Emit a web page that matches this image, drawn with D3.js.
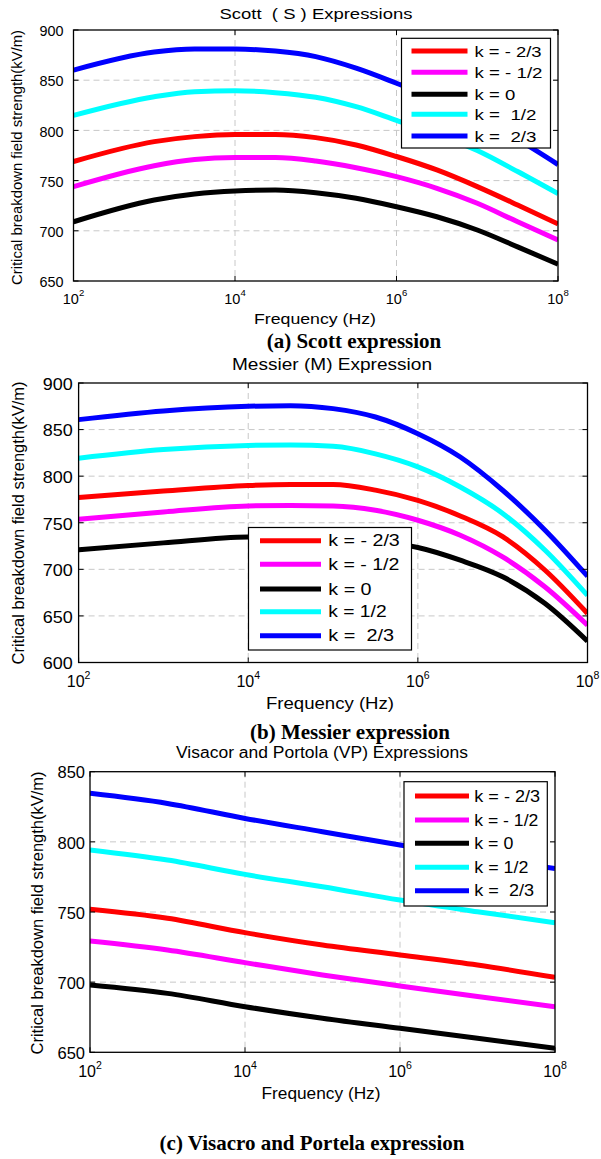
<!DOCTYPE html>
<html>
<head>
<meta charset="utf-8">
<script src="https://cdn.jsdelivr.net/npm/d3@7"></script>
<style>
  html, body { margin: 0; padding: 0; background: #fff; }
  svg { display: block; }
  text { white-space: pre; }
</style>
</head>
<body>
<script>
// ---- shared series definitions ----
const seriesColors = ["#ff0000", "#ff00ff", "#000000", "#00ffff", "#0000ff"];
const legendScott   = ["k = - 2/3", "k = - 1/2", "k = 0", "k =  1/2", "k =  2/3"];
const legendMessier = ["k = - 2/3", "k = - 1/2", "k = 0", "k = 1/2", "k =  2/3"];
const legendVP      = ["k = - 2/3", "k = - 1/2", "k = 0", "k = 1/2", "k =  2/3"];
const xTickValues   = [1e2, 1e4, 1e6, 1e8];
const xTickExponents = ["2", "4", "6", "8"];

// ---- (a) Scott expression ----
const freqScott = [100, 1000, 3162, 10000, 31623, 100000, 316228, 1000000, 3162278, 10000000, 31622777, 100000000];
const scottKm23 = [769, 788.8, 793.8, 796, 796, 792.8, 785.5, 774, 760.6, 744, 725.7, 706.8];
const scottKm12 = [744, 764.8, 771, 773, 773, 769.5, 762.8, 753.9, 742.3, 727.4, 709, 690.8];
const scottK0   = [709, 730.7, 736.7, 739.7, 740.6, 738, 732.4, 724, 714, 700.8, 684, 666.7];
const scottK12  = [815, 833.6, 838.6, 839.6, 837.6, 833, 823.6, 810, 796, 780, 759, 737];
const scottK23  = [860, 878, 881, 881, 879, 873.5, 862, 847, 831, 813, 791, 766];
const scottYTicks = [650, 700, 750, 800, 850, 900];

// ---- (b) Messier expression ----
const freqMessier = [100, 1000, 10000, 31623, 100000, 316228, 1000000, 3162278, 10000000, 31622777, 100000000];
const messierKm23 = [777, 784, 790, 791, 791, 785, 774, 757.3, 735, 699, 652.6];
const messierKm12 = [753.8, 761.6, 768, 768.5, 768, 763.4, 752.7, 736.6, 713.3, 681, 640];
const messierK0   = [721, 728.4, 734.8, 735, 733, 730, 723.4, 709.8, 692, 663.3, 622.9];
const messierK12  = [819.2, 828.5, 833, 833.5, 832, 824, 810, 788.4, 760, 720.5, 672];
const messierK23  = [860.7, 870, 875, 875.7, 872.5, 863.5, 845.6, 820.6, 784.9, 742, 692.6];
const messierYTicks = [600, 650, 700, 750, 800, 850, 900];

// ---- (c) Visacro and Portela expression ----
const freqVP = [100, 1000, 10000, 100000, 1000000, 10000000, 100000000];
const vpKm23 = [751.9, 745.5, 735.3, 726.5, 719.4, 712.2, 703.4];
const vpKm12 = [729.3, 722.9, 713.9, 705.1, 697.3, 689.7, 682.5];
const vpK0   = [698, 692, 682.5, 674.2, 667.1, 660, 652.9];
const vpK12  = [794.2, 787, 776.8, 768, 758.5, 750.2, 742.4];
const vpK23  = [834.6, 827.4, 816.7, 807.2, 797.7, 789, 781];
const vpYTicks = [650, 700, 750, 800, 850];

const SANS = "'Liberation Sans', Arial, Helvetica, sans-serif";
const SERIF = "'Liberation Serif', 'Times New Roman', serif";

const W = 601, H = 1159;
const svg = d3.select("body").append("svg").attr("width", W).attr("height", H);
svg.append("rect").attr("width", W).attr("height", H).attr("fill", "#fff");

// stretch a text run to a given advance, like the wide exported plot font
function fit(sel, len) {
  if (len) sel.attr("textLength", len).attr("lengthAdjust", "spacingAndGlyphs");
  return sel;
}

function drawPanel(cfg) {
  const g = svg.append("g");
  const x = d3.scaleLog().domain([1e2, 1e8]).range([cfg.left, cfg.right]);
  const y = d3.scaleLinear().domain(cfg.yDomain).range([cfg.bottom, cfg.top]);

  // dashed grid at the interior major ticks
  g.selectAll(".gy").data(cfg.yTicks.filter(v => v > cfg.yDomain[0] && v < cfg.yDomain[1]))
    .join("line")
    .attr("x1", cfg.left).attr("x2", cfg.right)
    .attr("y1", d => y(d)).attr("y2", d => y(d))
    .attr("stroke", "#c8c8c8").attr("stroke-width", 1).attr("stroke-dasharray", "6,4");
  g.selectAll(".gx").data(xTickValues.slice(1, -1))
    .join("line")
    .attr("x1", d => x(d)).attr("x2", d => x(d))
    .attr("y1", cfg.top).attr("y2", cfg.bottom)
    .attr("stroke", "#c8c8c8").attr("stroke-width", 1).attr("stroke-dasharray", "6,4");

  // curves
  const clipId = "clip" + cfg.id;
  svg.append("clipPath").attr("id", clipId).append("rect")
    .attr("x", cfg.left).attr("y", cfg.top)
    .attr("width", cfg.right - cfg.left).attr("height", cfg.bottom - cfg.top);
  const line = d3.line().x(d => x(d[0])).y(d => y(d[1])).curve(d3.curveMonotoneX);
  g.append("g").attr("clip-path", `url(#${clipId})`)
    .selectAll("path").data(cfg.series)
    .join("path")
    .attr("d", s => line(cfg.freq.map((f, i) => [f, s[i]])))
    .attr("fill", "none")
    .attr("stroke", (s, i) => seriesColors[i])
    .attr("stroke-width", 5)
    .attr("stroke-linejoin", "round");

  // axes box with inward ticks on all four sides
  const tickLen = 5;
  g.append("rect")
    .attr("x", cfg.left).attr("y", cfg.top)
    .attr("width", cfg.right - cfg.left).attr("height", cfg.bottom - cfg.top)
    .attr("fill", "none").attr("stroke", "#000").attr("stroke-width", 1.3);
  cfg.yTicks.forEach(v => {
    g.append("line").attr("x1", cfg.left).attr("x2", cfg.left + tickLen)
      .attr("y1", y(v)).attr("y2", y(v)).attr("stroke", "#000");
    g.append("line").attr("x1", cfg.right).attr("x2", cfg.right - tickLen)
      .attr("y1", y(v)).attr("y2", y(v)).attr("stroke", "#000");
  });
  xTickValues.forEach(v => {
    g.append("line").attr("x1", x(v)).attr("x2", x(v))
      .attr("y1", cfg.bottom).attr("y2", cfg.bottom - tickLen).attr("stroke", "#000");
    g.append("line").attr("x1", x(v)).attr("x2", x(v))
      .attr("y1", cfg.top).attr("y2", cfg.top + tickLen).attr("stroke", "#000");
  });

  // y tick labels
  g.selectAll(".yl").data(cfg.yTicks).join("text")
    .attr("x", cfg.yLabelRight).attr("y", d => y(d) + cfg.tickFont * 0.36 + 1)
    .attr("text-anchor", "end")
    .attr("font-family", SANS).attr("font-size", cfg.tickFont)
    .attr("textLength", cfg.yTickWidth).attr("lengthAdjust", "spacingAndGlyphs")
    .text(d => d);

  // x tick labels: 10 with a raised exponent
  xTickValues.forEach((v, i) => {
    const t = g.append("text")
      .attr("x", x(v)).attr("y", cfg.xTickBase)
      .attr("text-anchor", "middle")
      .attr("font-family", SANS).attr("font-size", cfg.tickFont);
    t.append("tspan").text("10");
    t.append("tspan").attr("dy", -8).attr("font-size", cfg.tickFont * 0.66).text(xTickExponents[i]);
  });

  // title, axis labels
  fit(g.append("text")
    .attr("x", cfg.titleX).attr("y", cfg.titleBase)
    .attr("text-anchor", "middle")
    .attr("font-family", SANS).attr("font-size", cfg.titleFont)
    .text(cfg.title), cfg.titleWidth);
  fit(g.append("text")
    .attr("x", cfg.xLabelX).attr("y", cfg.xLabelBase)
    .attr("text-anchor", "middle")
    .attr("font-family", SANS).attr("font-size", cfg.labelFont)
    .text("Frequency (Hz)"), cfg.xLabelWidth);
  fit(g.append("text")
    .attr("transform", `translate(${cfg.yLabelBase},${cfg.yLabelMid}) rotate(-90)`)
    .attr("text-anchor", "middle")
    .attr("font-family", SANS).attr("font-size", cfg.yLabelFont)
    .text("Critical breakdown field strength(kV/m)"), cfg.yLabelLength);

  // legend
  const L = cfg.legend;
  const lg = g.append("g");
  lg.append("rect")
    .attr("x", L.x0).attr("y", L.y0).attr("width", L.x1 - L.x0).attr("height", L.y1 - L.y0)
    .attr("fill", "#fff").attr("stroke", "#000").attr("stroke-width", 1.2);
  cfg.legendLabels.forEach((lab, i) => {
    const yy = L.rows[i];
    lg.append("line")
      .attr("x1", L.lineX0).attr("x2", L.lineX1).attr("y1", yy).attr("y2", yy)
      .attr("stroke", seriesColors[i]).attr("stroke-width", 5);
    fit(lg.append("text")
      .attr("x", L.textX).attr("y", yy + cfg.legendFont * 0.36)
      .attr("font-family", SANS).attr("font-size", cfg.legendFont)
      .text(lab), L.widths[i]);
  });

  // caption under the panel
  svg.append("text")
    .attr("x", cfg.captionX).attr("y", cfg.captionBase)
    .attr("text-anchor", "middle")
    .attr("font-family", SERIF).attr("font-weight", "bold").attr("font-size", 21)
    .text(cfg.caption);
}

drawPanel({
  id: "a", left: 73.5, right: 558, top: 30, bottom: 281,
  yDomain: [650, 900], yTicks: scottYTicks,
  freq: freqScott, series: [scottKm23, scottKm12, scottK0, scottK12, scottK23],
  legendLabels: legendScott,
  tickFont: 14.5, labelFont: 15, titleFont: 15.5, yLabelFont: 15, legendFont: 15.5,
  yTickWidth: 24,
  yLabelRight: 63.5, xTickBase: 303.5, xLabelBase: 323.5, titleBase: 18.5,
  titleX: 316, titleWidth: 193, xLabelX: 315, xLabelWidth: 122,
  yLabelBase: 21.5, yLabelMid: 157.5, yLabelLength: 255,
  title: "Scott  ( S ) Expressions",
  legend: { x0: 401.5, x1: 550.5, y0: 38.3, y1: 148, lineX0: 411.5, lineX1: 467.5, textX: 474.5,
            rows: [51, 72.3, 94.3, 114.3, 136], widths: [67, 68, 40.7, 62, 62] },
  caption: "(a) Scott expression", captionX: 354, captionBase: 348
});

drawPanel({
  id: "b", left: 78.6, right: 587.5, top: 383, bottom: 662.5,
  yDomain: [600, 900], yTicks: messierYTicks,
  freq: freqMessier, series: [messierKm23, messierKm12, messierK0, messierK12, messierK23],
  legendLabels: legendMessier,
  tickFont: 16, labelFont: 16, titleFont: 16.5, yLabelFont: 16.5, legendFont: 16,
  yTickWidth: 30,
  yLabelRight: 72.8, xTickBase: 687, xLabelBase: 708.5, titleBase: 370,
  titleX: 332, titleWidth: 200, xLabelX: 330, xLabelWidth: 128,
  yLabelBase: 24, yLabelMid: 523, yLabelLength: 283,
  title: "Messier (M) Expression",
  legend: { x0: 248.5, x1: 411.5, y0: 527.5, y1: 650, lineX0: 260, lineX1: 321, textX: 328.3,
            rows: [540.7, 564.3, 589, 611.7, 635.7], widths: [71.5, 71, 43.3, 58.3, 65.7] },
  caption: "(b) Messier expression", captionX: 350, captionBase: 739
});

drawPanel({
  id: "c", left: 90, right: 555, top: 771.7, bottom: 1052.3,
  yDomain: [650, 850], yTicks: vpYTicks,
  freq: freqVP, series: [vpKm23, vpKm12, vpK0, vpK12, vpK23],
  legendLabels: legendVP,
  tickFont: 16, labelFont: 16, titleFont: 16, yLabelFont: 16.5, legendFont: 16,
  yTickWidth: 27.5,
  yLabelRight: 85, xTickBase: 1077, xLabelBase: 1099.3, titleBase: 758,
  titleX: 322, titleWidth: 292, xLabelX: 321, xLabelWidth: 119,
  yLabelBase: 43, yLabelMid: 913, yLabelLength: 283,
  title: "Visacor and Portola (VP) Expressions",
  legend: { x0: 404, x1: 547.3, y0: 781.7, y1: 906, lineX0: 415, lineX1: 469, textX: 474.3,
            rows: [796, 820, 843.3, 867.3, 890.7], widths: [65.7, 64, 39, 54, 59.7] },
  caption: "(c) Visacro and Portela expression", captionX: 312, captionBase: 1150
});
</script>
</body>
</html>
